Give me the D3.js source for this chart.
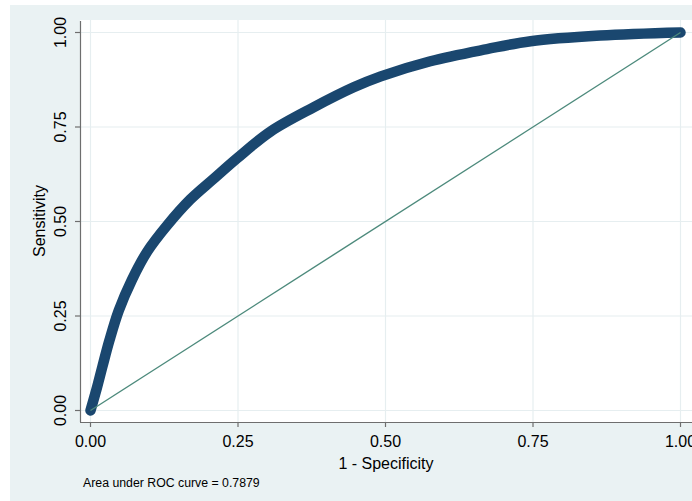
<!DOCTYPE html>
<html><head><meta charset="utf-8">
<script src="https://cdn.jsdelivr.net/npm/d3@7"></script>
<style>body{margin:0;background:#fff}svg{display:block}text{font-family:"Liberation Sans",Arial,Helvetica,sans-serif;fill:#000}</style>
</head><body><svg id="c" width="692" height="501"></svg>
<script>
const fpr = [0, 0.010, 0.020, 0.032, 0.048, 0.070, 0.096, 0.130, 0.169, 0.208, 0.249, 0.305, 0.378, 0.446, 0.492, 0.576, 0.672, 0.746, 0.864, 1.0];
const tpr = [0, 0.055, 0.115, 0.185, 0.265, 0.345, 0.420, 0.490, 0.558, 0.612, 0.668, 0.738, 0.802, 0.855, 0.884, 0.924, 0.956, 0.977, 0.992, 1.0];
const ticks = [0, 0.25, 0.5, 0.75, 1];
const tickLabels = ["0.00", "0.25", "0.50", "0.75", "1.00"];
const xTitle = "1 - Specificity";
const yTitle = "Sensitivity";
const note = "Area under ROC curve = 0.7879";

const svg = d3.select("#c");
svg.append("rect").attr("x",10).attr("y",5).attr("width",682).attr("height",496).attr("fill","#eaf2f3");
const L=80, T=20, R=692, B=422;
svg.append("rect").attr("x",L).attr("y",T).attr("width",R-L).attr("height",B-T).attr("fill","#fff");

const x = d3.scaleLinear().domain([0,1]).range([90.5,680.5]);
const y = d3.scaleLinear().domain([0,1]).range([410.5,32.5]);

const grid = svg.append("g").attr("stroke","#e6eef0").attr("stroke-width",1.2);
ticks.forEach(t=>{
  grid.append("line").attr("x1",x(t)).attr("x2",x(t)).attr("y1",T).attr("y2",B);
  grid.append("line").attr("x1",L).attr("x2",R).attr("y1",y(t)).attr("y2",y(t));
});

const ax = svg.append("g").attr("stroke","#6e6e6e").attr("stroke-width",1.2);
ax.append("line").attr("x1",L+0.5).attr("x2",L+0.5).attr("y1",T+1).attr("y2",B);
ax.append("line").attr("x1",L).attr("x2",R).attr("y1",B+0.5).attr("y2",B+0.5);
ticks.forEach(t=>{
  ax.append("line").attr("x1",L-5).attr("x2",L).attr("y1",y(t)).attr("y2",y(t));
  ax.append("line").attr("x1",x(t)).attr("x2",x(t)).attr("y1",B).attr("y2",B+5);
});
ticks.forEach((t,i)=>{
  svg.append("text").attr("transform",`translate(66,${y(t)}) rotate(-90)`).attr("text-anchor","middle")
    .attr("font-size",16).text(tickLabels[i]);
  svg.append("text").attr("x",x(t)).attr("y",447).attr("text-anchor","middle").attr("font-size",16).text(tickLabels[i]);
});
svg.append("text").attr("x",(L+R)/2).attr("y",469).attr("text-anchor","middle").attr("font-size",16).text(xTitle);
svg.append("text").attr("transform",`translate(45,${(T+B)/2}) rotate(-90)`).attr("text-anchor","middle").attr("font-size",16).text(yTitle);
svg.append("text").attr("x",83).attr("y",487).attr("font-size",12.3).text(note);

const pts = fpr.map((f,i)=>[f,tpr[i]]);
const line = d3.line().x(d=>x(d[0])).y(d=>y(d[1])).curve(d3.curveCatmullRom.alpha(0.5));
svg.append("path").attr("d",line(pts)).attr("fill","none").attr("stroke","#1a476f")
  .attr("stroke-width",10.5).attr("stroke-linecap","round").attr("stroke-linejoin","round");
svg.append("line").attr("x1",x(0)).attr("y1",y(0)).attr("x2",x(1)).attr("y2",y(1))
  .attr("stroke","#4d8a7c").attr("stroke-width",1.4);
</script></body></html>
